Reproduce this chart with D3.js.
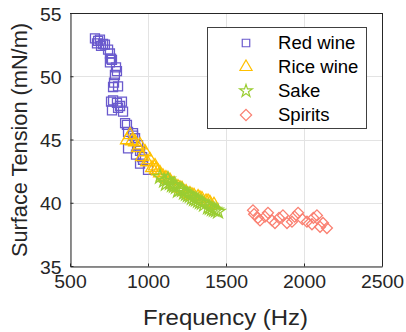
<!DOCTYPE html>
<html><head><meta charset="utf-8">
<script src="https://cdn.jsdelivr.net/npm/d3@7"></script>
<style>
html,body{margin:0;padding:0;background:#fff;}
svg{display:block;font-family:"Liberation Sans",Arial,Helvetica,sans-serif;}
</style></head>
<body>
<svg id="chart" width="406" height="332"></svg>
<script>
const xTicks = [500, 1000, 1500, 2000, 2500];
const yTicks = [35, 40, 45, 50, 55];
const seriesNames = ["Red wine", "Rice wine", "Sake", "Spirits"];

const redWine = [[660,53.0],[680,52.8],[692,52.9],[673,52.6],[699,52.4],[724,52.5],[712,52.55],[744,52.1],
  [756,51.8],[763,51.4],[756,51.1],[769,51.3],[795,50.7],[801,50.4],[788,50.1],[782,49.5],[808,49.2],[776,49.15],
  [763,48.0],[776,48.1],[801,47.9],[833,48.0],[769,47.3],[808,47.5],[840,47.2],[821,47.65],[853,46.3],[865,46.15],
  [872,45.6],[904,45.5],[917,45.1],[936,44.55],[872,44.3],[904,45.3],[949,44.1],[962,43.6],[949,43.1],[968,43.4],
  [1000,42.6],[923,43.8]];
const riceWine = [[865,44.96],[885,45.36],[917,44.8],[936,44.33],[962,43.62],[994,43.22],[1026,42.75],[1064,42.5],
  [897,44.88],[949,44.56],[981,44.01],[1013,43.38],[1045,42.9],[1077,42.35],[1096,42.1],[1115,41.95],[1141,41.75],
  [1167,41.5],[1192,41.25],[1218,41.1],[1244,40.85],[1269,40.7],[1295,40.55],[1321,40.45],[1346,40.3],[1372,40.1],
  [1397,40.0],[1423,39.85],[1051,42.6],[1128,41.85],[1205,41.15],[1282,40.6],[1333,40.35],[1385,40.1]];
const sake = [[1077,42.05],[1103,41.75],[1128,41.85],[1154,41.4],[1179,41.25],[1205,41.05],[1231,40.8],[1256,40.6],
  [1282,40.4],[1308,40.25],[1333,40.05],[1359,39.85],[1385,39.65],[1410,39.5],[1436,39.4],[1449,39.3],[1141,41.55],
  [1192,40.95],[1244,40.7],[1295,40.3],[1346,40.0],[1397,39.6],[1115,41.5],[1218,41.0],[1321,40.15],[1423,39.45],
  [1167,41.35],[1269,40.55]];
const spirits = [[1673,39.4],[1705,38.8],[1718,38.6],[1769,39.2],[1795,38.6],[1814,38.4],[1865,39.0],[1891,38.4],
  [1923,38.5],[1962,39.2],[2019,38.5],[2051,38.3],[2083,39.0],[2103,38.1],[2122,38.4],[2147,38.0],[1680,39.1],
  [1750,38.9],[1840,38.8],[1990,38.7],[1940,38.9],[2060,38.8]];

const svg = d3.select("#chart");
const L = 70, R = 382, T = 13, B = 266;
const x = d3.scaleLinear().domain([500, 2500]).range([L, R]);
const y = d3.scaleLinear().domain([35, 55]).range([B, T]);
const axisColor = "#262626";

// grid
const grid = svg.append("g").attr("stroke", "#e3e3e3").attr("stroke-width", 1);
grid.selectAll(".gx").data(xTicks).join("line")
  .attr("x1", d => Math.round(x(d)) + 0.5).attr("x2", d => Math.round(x(d)) + 0.5)
  .attr("y1", T).attr("y2", B);
grid.selectAll(".gy").data(yTicks).join("line")
  .attr("y1", d => Math.round(y(d)) + 0.5).attr("y2", d => Math.round(y(d)) + 0.5)
  .attr("x1", L).attr("x2", R);

// axes
const xAxis = svg.append("g").attr("transform", `translate(0,${B + 0.5})`)
  .call(d3.axisBottom(x).tickValues(xTicks).tickSizeInner(-3).tickSizeOuter(0).tickPadding(9).tickFormat(d3.format("d")));
const yAxis = svg.append("g").attr("transform", `translate(${L + 0.5},0)`)
  .call(d3.axisLeft(y).tickValues(yTicks).tickSizeInner(-3).tickSizeOuter(0).tickPadding(9).tickFormat(d3.format("d")));
[xAxis, yAxis].forEach(a => {
  a.select(".domain").attr("stroke", axisColor);
  a.selectAll(".tick line").attr("stroke", axisColor);
  a.selectAll("text").attr("fill", axisColor).attr("font-size", 18).attr("font-family", '"Liberation Sans",Arial,sans-serif')
    .each(function(d) { const n = String(d).length; d3.select(this).attr("textLength", n * 10.8).attr("lengthAdjust", "spacingAndGlyphs"); });
});
yAxis.selectAll("text").attr("dy", "0.4em");
// box top/right
svg.append("line").attr("x1", L).attr("x2", R + 0.5).attr("y1", T + 0.5).attr("y2", T + 0.5).attr("stroke", axisColor);
svg.append("line").attr("x1", R + 0.5).attr("x2", R + 0.5).attr("y1", T).attr("y2", B + 0.5).attr("stroke", axisColor);

// markers
const colors = ["#6a5acd", "#ffc000", "#9acd32", "#fa8072"];
const shapes = [
  d3.symbol().type(d3.symbolSquare).size(81),
  d3.symbol().type(d3.symbolTriangle).size(72),
  d3.symbol().type(d3.symbolStar).size(62),
  d3.symbol().type(d3.symbolSquare).size(60)
];
const rot = [0, 0, 0, 45];
const allSeries = [redWine, riceWine, sake, spirits];
allSeries.forEach((data, i) => {
  svg.append("g").selectAll("path").data(data).join("path")
    .attr("d", shapes[i]())
    .attr("transform", d => `translate(${x(d[0])},${y(d[1])}) rotate(${rot[i]})`)
    .attr("fill", "none").attr("stroke", colors[i]).attr("stroke-width", 1.3);
});

// legend
const lg = svg.append("g");
lg.append("rect").attr("x", 207.5).attr("y", 27.5).attr("width", 159).attr("height", 101)
  .attr("fill", "#fff").attr("stroke", "#404040").attr("stroke-width", 1);
const legendShapes = [
  d3.symbol().type(d3.symbolSquare).size(56),
  d3.symbol().type(d3.symbolTriangle).size(64),
  d3.symbol().type(d3.symbolStar).size(50),
  d3.symbol().type(d3.symbolSquare).size(64)
];
const rowY = [43, 67, 91, 115];
seriesNames.forEach((name, i) => {
  lg.append("path").attr("d", legendShapes[i]())
    .attr("transform", `translate(246,${rowY[i]}) rotate(${rot[i]})`)
    .attr("fill", "none").attr("stroke", colors[i]).attr("stroke-width", 1.2);
  const t = lg.append("text").attr("x", 278).attr("y", rowY[i]).attr("dy", "0.36em")
    .attr("font-size", 17.5).attr("fill", "#000").text(name);
  const w = t.node().getComputedTextLength();
  t.attr("textLength", w * 1.06).attr("lengthAdjust", "spacingAndGlyphs");
});

// axis labels
svg.append("text").attr("x", 225.5).attr("y", 325).attr("text-anchor", "middle")
  .attr("font-size", 22).attr("fill", axisColor)
  .attr("textLength", 165).attr("lengthAdjust", "spacingAndGlyphs").text("Frequency (Hz)");
svg.append("text").attr("transform", "translate(27,140) rotate(-90)").attr("text-anchor", "middle")
  .attr("font-size", 21.5).attr("fill", axisColor)
  .attr("textLength", 234).attr("lengthAdjust", "spacingAndGlyphs").text("Surface Tension (mN/m)");
</script>
</body></html>
